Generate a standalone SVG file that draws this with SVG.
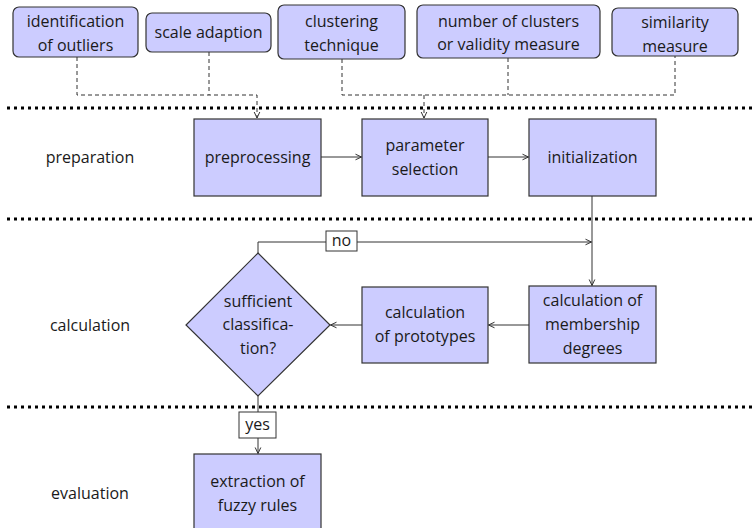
<svg xmlns="http://www.w3.org/2000/svg" width="756" height="528" viewBox="0 0 756 528">
<defs>
<marker id="arr" viewBox="0 0 8 8" refX="7" refY="4" markerWidth="8" markerHeight="8" markerUnits="userSpaceOnUse" orient="auto">
<path d="M1,1.2 L7,4 L1,6.8" fill="none" stroke="#333" stroke-width="1"/>
</marker>
</defs>
<style>
text{font-family:"Open Sans","DejaVu Sans",sans-serif;font-size:16px;fill:#1a1a1a;text-anchor:middle}
.box{fill:#ccccff;stroke:#333;stroke-width:1.2}
.sep{stroke:#000;stroke-width:3;stroke-dasharray:3 4;fill:none}
.dash{fill:none;stroke:#333;stroke-width:1;stroke-dasharray:4 3}
.line{fill:none;stroke:#333;stroke-width:1}
.lbl{fill:#fff;stroke:#333;stroke-width:1}
</style>
<g id="separators">
<line class="sep" x1="7" y1="108" x2="756" y2="108"/>
<line class="sep" x1="7" y1="219" x2="756" y2="219"/>
<line class="sep" x1="7" y1="407" x2="756" y2="407"/>
</g>
<g id="phase-labels">
<text x="90" y="163">preparation</text>
<text x="90" y="331">calculation</text>
<text x="90" y="499">evaluation</text>
</g>
<g id="connectors">
<path class="dash" d="M77,57 V95 H257 V118" marker-end="url(#arr)"/>
<path class="dash" d="M209,52 V95"/>
<path class="dash" d="M342,59 V95 H675 V56"/>
<path class="dash" d="M508,58 V95"/>
<path class="dash" d="M424,95 V118" marker-end="url(#arr)"/>
<path class="line" d="M321,157 H361.5" marker-end="url(#arr)"/>
<path class="line" d="M488,157 H528.5" marker-end="url(#arr)"/>
<path class="line" d="M592,196 V285.5" marker-end="url(#arr)"/>
<path class="line" d="M258,253 V242 H591.5" marker-end="url(#arr)"/>
<path class="line" d="M529,325 H488.5" marker-end="url(#arr)"/>
<path class="line" d="M362,325 H330.5" marker-end="url(#arr)"/>
<path class="line" d="M258,396 V453.5" marker-end="url(#arr)"/>
<rect class="lbl" x="326" y="231" width="31" height="20"/>
<text x="341.5" y="246">no</text>
<rect class="lbl" x="239" y="412" width="37" height="26"/>
<text x="257.5" y="430">yes</text>
</g>
<g id="identification">
<rect class="box" x="13" y="7" width="125" height="50" rx="6"/>
<text x="75.5" y="27">identification</text>
<text x="75.5" y="51">of outliers</text>
</g>
<g id="scale-adaption">
<rect class="box" x="146" y="13" width="125" height="39" rx="6"/>
<text x="208.5" y="38">scale adaption</text>
</g>
<g id="clustering-technique">
<rect class="box" x="278" y="5" width="127" height="54" rx="6"/>
<text x="341.5" y="27">clustering</text>
<text x="341.5" y="51">technique</text>
</g>
<g id="number-of-clusters">
<rect class="box" x="417" y="5" width="183" height="53" rx="6"/>
<text x="508.5" y="27">number of clusters</text>
<text x="508.5" y="50">or validity measure</text>
</g>
<g id="similarity-measure">
<rect class="box" x="612" y="8" width="126" height="48" rx="6"/>
<text x="675" y="28">similarity</text>
<text x="675" y="52">measure</text>
</g>
<g id="preprocessing">
<rect class="box" x="194" y="119" width="127" height="77"/>
<text x="257.5" y="163">preprocessing</text>
</g>
<g id="parameter-selection">
<rect class="box" x="362" y="119" width="126" height="77"/>
<text x="425" y="151">parameter</text>
<text x="425" y="175">selection</text>
</g>
<g id="initialization">
<rect class="box" x="529" y="119" width="127" height="77"/>
<text x="592.5" y="163">initialization</text>
</g>
<g id="membership">
<rect class="box" x="529" y="286" width="127" height="77"/>
<text x="592.5" y="306">calculation of</text>
<text x="592.5" y="330">membership</text>
<text x="592.5" y="354">degrees</text>
</g>
<g id="prototypes">
<rect class="box" x="362" y="287" width="126" height="76"/>
<text x="425" y="318">calculation</text>
<text x="425" y="342">of prototypes</text>
</g>
<g id="decision">
<polygon class="box" points="258,253 330,325 258,396 186,325"/>
<text x="258" y="307">sufficient</text>
<text x="258" y="330">classifica-</text>
<text x="258" y="354">tion?</text>
</g>
<g id="extraction">
<rect class="box" x="194" y="454" width="127" height="77"/>
<text x="257.5" y="487">extraction of</text>
<text x="257.5" y="511">fuzzy rules</text>
</g>
</svg>
